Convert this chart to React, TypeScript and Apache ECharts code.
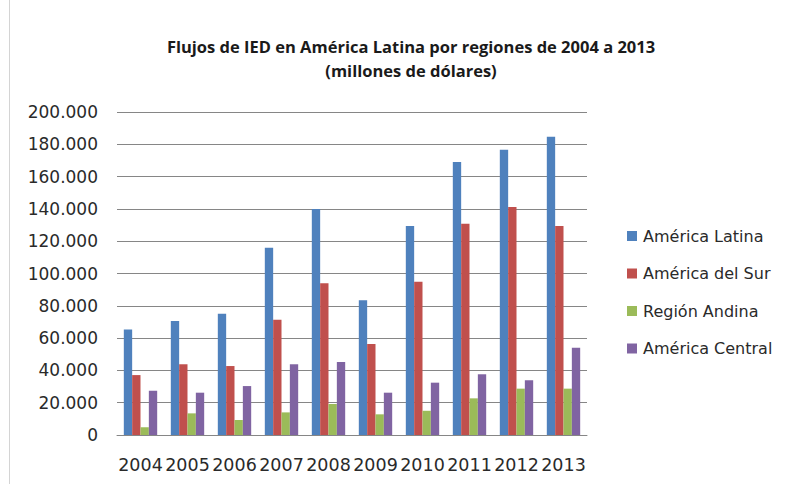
import React, { useEffect, useRef } from "react";
import * as echarts from "echarts";

const years = ["2004", "2005", "2006", "2007", "2008", "2009", "2010", "2011", "2012", "2013"];
const americaLatina = [65400, 70600, 75100, 116000, 140000, 83400, 129400, 169000, 176700, 184700];
const americaDelSur = [37100, 43800, 42700, 71400, 93900, 56300, 94900, 130800, 141200, 129400];
const regionAndina = [4800, 13400, 9300, 14000, 19200, 12800, 15000, 22700, 28700, 28700];
const americaCentral = [27400, 26200, 30300, 43800, 45200, 26200, 32400, 37600, 33900, 54000];
const seriesNames = ["América Latina", "América del Sur", "Región Andina", "América Central"];
const colors = ["#4F81BD", "#C0504D", "#9BBB59", "#8064A2"];

const AXIS_FONT = "'DejaVu Sans', sans-serif";
const TITLE_FONT = "'Open Sans', sans-serif";

export default function App() {
  const ref = useRef<HTMLDivElement>(null);
  useEffect(() => {
    if (!ref.current) return;
    const chart = echarts.init(ref.current, null, { renderer: "svg" });
    const data = [americaLatina, americaDelSur, regionAndina, americaCentral];
    chart.setOption({
      animation: false,
      backgroundColor: "#ffffff",
      textStyle: { fontFamily: AXIS_FONT },
      title: {
        text: "Flujos de IED en América Latina por regiones de 2004 a 2013\n(millones de dólares)",
        left: 406,
        top: 30,
        textAlign: "center",
        textStyle: { fontFamily: TITLE_FONT, fontSize: 16.5, fontWeight: "bold", color: "#1a1a1a", lineHeight: 23.5 },
      },
      graphic: [
        {
          type: "line",
          shape: { x1: 9.5, y1: 0, x2: 9.5, y2: 484 },
          style: { stroke: "#d4d4d4", lineWidth: 1 },
          silent: true,
        },
      ],
      legend: {
        orient: "vertical",
        left: 622,
        top: 223,
        itemWidth: 10,
        itemHeight: 10,
        itemGap: 21.5,
        icon: "rect",
        textStyle: { fontFamily: AXIS_FONT, fontSize: 16, color: "#2a2a2a", padding: [0, 0, 0, 1] },
        data: seriesNames,
      },
      grid: { left: 117, right: 204, top: 112, bottom: 49 },
      xAxis: {
        type: "category",
        data: years,
        axisTick: { show: false },
        axisLine: { lineStyle: { color: "#868686" } },
        axisLabel: { fontFamily: AXIS_FONT, fontSize: 17.5, color: "#2a2a2a", margin: 21, interval: 0 },
      },
      yAxis: {
        type: "value",
        min: 0,
        max: 200000,
        interval: 20000,
        axisLine: { show: false },
        axisTick: { show: false },
        splitLine: { lineStyle: { color: "#868686" } },
        axisLabel: {
          fontFamily: AXIS_FONT,
          fontSize: 17,
          color: "#2a2a2a",
          margin: 19,
          formatter: (v: number) => (v === 0 ? "0" : String(v / 1000) + ".000"),
        },
      },
      series: seriesNames.map((name, i) => ({
        name,
        type: "bar",
        data: data[i],
        itemStyle: { color: colors[i] },
        barGap: "0%",
        barCategoryGap: "29%",
      })),
    });
    return () => chart.dispose();
  }, []);
  return (
    <div
      ref={ref}
      style={{ position: "fixed", left: 0, top: 0, width: 791, height: 484 }}
    />
  );
}
